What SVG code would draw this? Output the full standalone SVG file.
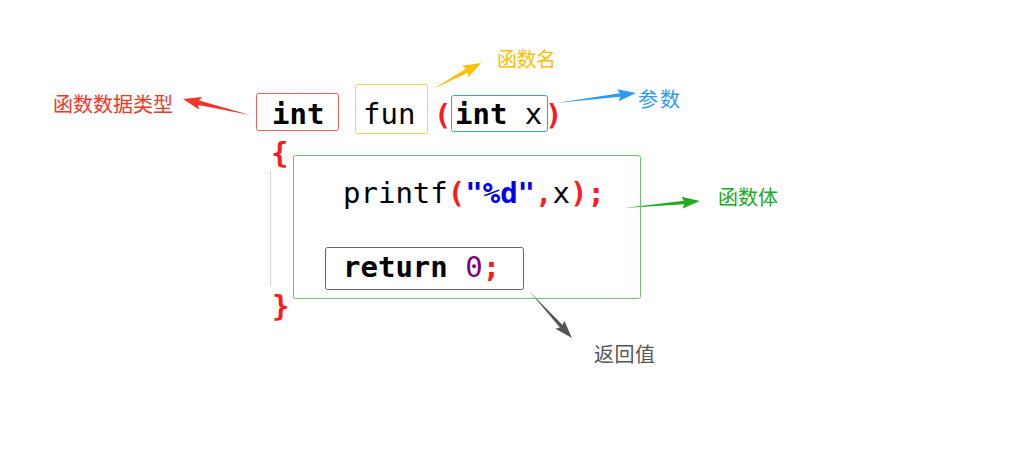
<svg xmlns="http://www.w3.org/2000/svg" width="1024" height="466" viewBox="0 0 1024 466">
<style>
.code{font-family:"DejaVu Sans Mono","Liberation Mono",monospace;font-size:29px;fill:#000}
.b{font-weight:bold}
.red{fill:#ff1a1a;font-weight:bold}
.lbl{font-family:"Microsoft YaHei","Noto Sans CJK SC",sans-serif;font-size:20px}
.box{fill:none;stroke-width:1}
</style>
<rect width="1024" height="466" fill="#fff"/>
<g id="connectors">
  <path transform="translate(250,115) rotate(193.4)" d="M0,0 L52.9,-2.2 L50.9,-6.5 L68.9,0 L50.9,6.5 L52.9,2.2 Z" fill="#f5342a"/>
  <path transform="translate(433,89) rotate(-28.4)" d="M0,0 L38.6,-2.2 L36.6,-6.5 L54.6,0 L36.6,6.5 L38.6,2.2 Z" fill="#ffc000"/>
  <path transform="translate(556,103) rotate(-7.1)" d="M0,0 L64.6,-1.8 L62.6,-6 L80.6,0 L62.6,6 L64.6,1.8 Z" fill="#2b9cf2"/>
  <path transform="translate(624,208) rotate(-5.3)" d="M0,0 L60.3,-1.8 L58.3,-6 L76.3,0 L58.3,6 L60.3,1.8 Z" fill="#22aa22"/>
  <path transform="translate(530,292) rotate(47.6)" d="M0,0 L46.3,-1.8 L44.3,-6 L62.3,0 L44.3,6 L46.3,1.8 Z" fill="#555"/>
</g>
<g id="label-type"><text class="lbl" x="53" y="112" fill="#f5342a" textLength="120">函数数据类型</text></g>
<g id="label-name"><text class="lbl" x="497" y="67" fill="#ffc000" textLength="59">函数名</text></g>
<g id="label-param"><text class="lbl" x="638" y="107" fill="#2b9cf2" textLength="42">参数</text></g>
<g id="label-body"><text class="lbl" x="718" y="205" fill="#22aa22" textLength="60">函数体</text></g>
<g id="label-return"><text class="lbl" x="594" y="362" fill="#555" textLength="61">返回值</text></g>
<g id="node-int">
  <rect class="box" x="256.5" y="93.5" width="82" height="37" rx="2" stroke="#f06060"/>
  <text class="code b" x="272" y="124">int</text>
</g>
<g id="node-fun">
  <rect class="box" x="355.5" y="84.5" width="72" height="49" rx="2" stroke="#ffcc55"/>
  <text class="code" x="363" y="124">fun</text>
</g>
<g id="node-param">
  <text class="code red" x="434" y="125">(</text>
  <rect class="box" x="451.5" y="95.5" width="96" height="36" rx="2" stroke="#3d9cf0"/>
  <text class="code" x="455" y="124"><tspan class="b">int</tspan> x</text>
  <text class="code red" x="545" y="125">)</text>
</g>
<g id="braces">
  <text class="code red" x="271" y="163">{</text>
  <line x1="270.5" y1="172" x2="270.5" y2="286" stroke="#bbb" stroke-width="1" stroke-dasharray="1,1"/>
  <text class="code red" x="272" y="316">}</text>
</g>
<g id="node-body">
  <rect class="box" x="293.5" y="155.5" width="347" height="143" rx="2" stroke="#6cc46c"/>
  <text class="code" x="343" y="203">printf<tspan class="red">(</tspan><tspan class="b" fill="#0000ee">"%d"</tspan><tspan class="red">,</tspan>x<tspan class="red">);</tspan></text>
</g>
<g id="node-return">
  <rect class="box" x="325.5" y="247.5" width="198" height="42" rx="2" stroke="#666"/>
  <text class="code" x="343" y="277"><tspan class="b">return</tspan> <tspan fill="#800080">0</tspan><tspan class="red">;</tspan></text>
</g>
</svg>
